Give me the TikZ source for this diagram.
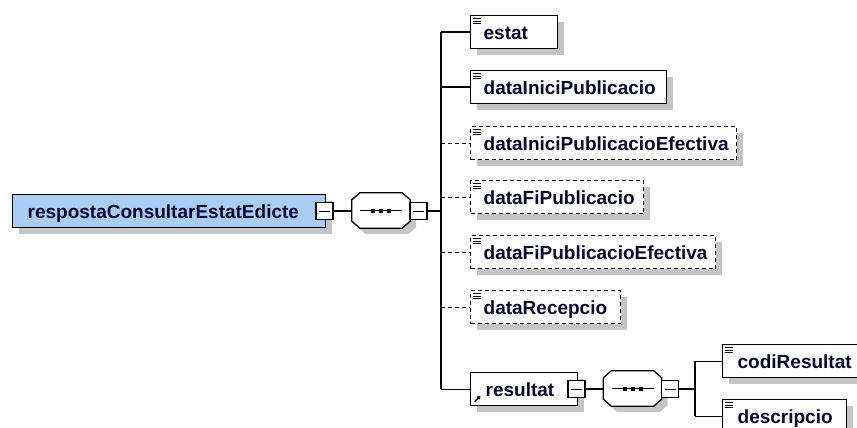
\documentclass[tikz,border=0pt]{standalone}
\usepackage{fontspec}
\setmainfont{Liberation Sans}
\usetikzlibrary{shadows,arrows.meta,calc}
\definecolor{navy}{RGB}{5,5,45}
\definecolor{shadowgray}{RGB}{196,196,196}
\definecolor{rootblue}{RGB}{168,204,242}
\tikzset{
  conn/.style={draw=black, line width=1.3pt},
  optconn/.style={conn, dash pattern=on 4pt off 3pt},
  basebox/.style={draw=black, line width=1.3pt, fill=white, rectangle, anchor=north west,
    minimum height=33pt, inner xsep=13pt, inner ysep=0pt, text height=14pt, text depth=0pt,
    text=navy, font=\fontsize{19}{21}\selectfont\bfseries, align=left,
    general shadow={fill=shadowgray, shadow xshift=6pt, shadow yshift=-6pt}},
  elem/.style={basebox, path picture={
      \foreach \k in {3,5.5,8}
        \draw[solid, black, line width=0.9pt] ([xshift=2.5pt,yshift=-\k pt]path picture bounding box.north west) -- ++(8pt,0pt);}},
  optelem/.style={elem, dash pattern=on 4pt off 3pt},
  refelem/.style={basebox, path picture={
      \draw[solid, black, line width=1.3pt, -{Triangle[length=3.5pt,width=4pt]}]
        ([xshift=4pt,yshift=4pt]path picture bounding box.south west) -- ++(6pt,6pt);}},
  rootelem/.style={basebox, fill=rootblue, inner xsep=15pt},
  minusbox/.style={draw=black, line width=1.3pt, fill=white, rectangle, minimum size=17pt, inner sep=0pt,
    path picture={\draw[black, line width=1pt] ([xshift=3pt]path picture bounding box.west) -- ([xshift=-3pt]path picture bounding box.east);}},
  seqanchor/.style={rectangle, draw=none, minimum width=58pt, minimum height=35pt, inner sep=0pt},
  seqline/.style={draw=black, line width=1.3pt, fill=white},
  seqshadow/.style={fill=shadowgray, transform canvas={shift={(6pt,-6pt)}}}
}
% octagon outline around a named node
\newcommand\octpath[1]{($(#1.north west)+(8,0)$) -- ($(#1.north east)+(-8,0)$) -- ($(#1.north east)+(0,7)$) -- ($(#1.south east)+(0,-7)$) -- ($(#1.south east)+(-8,0)$) -- ($(#1.south west)+(8,0)$) -- ($(#1.south west)+(0,-7)$) -- ($(#1.north west)+(0,7)$) -- cycle}
\newcommand\seqmark[1]{%
  \fill[seqshadow] \octpath{#1};
  \filldraw[seqline] \octpath{#1};
  \draw[black, line width=1pt] ($(#1.center)+(-21,0)$) -- ($(#1.center)+(21,0)$);
  \foreach \d in {-8,0,8}
    \fill[black] ($(#1.center)+(\d,0)+(-2,-2)$) rectangle ($(#1.center)+(\d,0)+(2,2)$);
}
\begin{document}
\begin{tikzpicture}[x=1pt,y=-1pt]
\useasboundingbox (0,0) rectangle (857,428);
\clip (0,0) rectangle (857,428);

% root row
\node[rootelem, text width=283pt] (root) at (12,194) {respostaConsultarEstatEdicte};
\node[seqanchor] (seq1) at (381,210.5) {};
\seqmark{seq1}
\node[minusbox] (m0) at (324.5,211) {};
\node[minusbox] (m1) at (418.5,211) {};
\coordinate (tr1) at (441,211);

% children
\node[elem, text width=61pt] (estat) at (470,15) {estat};
\node[elem, text width=170pt] (dip) at (470,70) {dataIniciPublicacio};
\node[optelem, text width=240pt] (dipe) at (470,126) {dataIniciPublicacioEfectiva};
\node[optelem, text width=147pt] (dfp) at (470,180) {dataFiPublicacio};
\node[optelem, text width=219pt] (dfpe) at (470,235) {dataFiPublicacioEfectiva};
\node[optelem, text width=124pt] (drec) at (470,290) {dataRecepcio};
\node[refelem, inner xsep=15pt, text width=77pt] (res) at (470,372) {resultat};

% resultat row
\node[seqanchor] (seq2) at (632.5,388.5) {};
\seqmark{seq2}
\node[minusbox] (m2) at (576.5,389) {};
\node[minusbox] (m3) at (670,389) {};
\coordinate (tr2) at (695,389);

\node[elem, inner xsep=15pt, text width=120pt] (codi) at (722,344) {codiResultat};
\node[elem, inner xsep=15pt, text width=94pt] (desc) at (722,399) {descripcio};

% connectors
\draw[conn] (m0.east) -- (m0.east -| seq1.west);
\draw[conn] (m1.east) -- (tr1);
\draw[conn] (tr1 |- estat.west) -- (tr1 |- res.west);
\draw[conn] (tr1 |- estat.west) -- (estat.west);
\draw[conn] (tr1 |- dip.west) -- (dip.west);
\draw[optconn] (tr1 |- dipe.west) -- (dipe.west);
\draw[optconn] (tr1 |- dfp.west) -- (dfp.west);
\draw[optconn] (tr1 |- dfpe.west) -- (dfpe.west);
\draw[optconn] (tr1 |- drec.west) -- (drec.west);
\draw[conn] (tr1 |- res.west) -- (res.west);

\draw[conn] (m2.east) -- (m2.east -| seq2.west);
\draw[conn] (m3.east) -- (tr2);
\draw[conn] (tr2 |- codi.west) -- (tr2 |- desc.west);
\draw[conn] (tr2 |- codi.west) -- (codi.west);
\draw[conn] (tr2 |- desc.west) -- (desc.west);
\end{tikzpicture}
\end{document}
